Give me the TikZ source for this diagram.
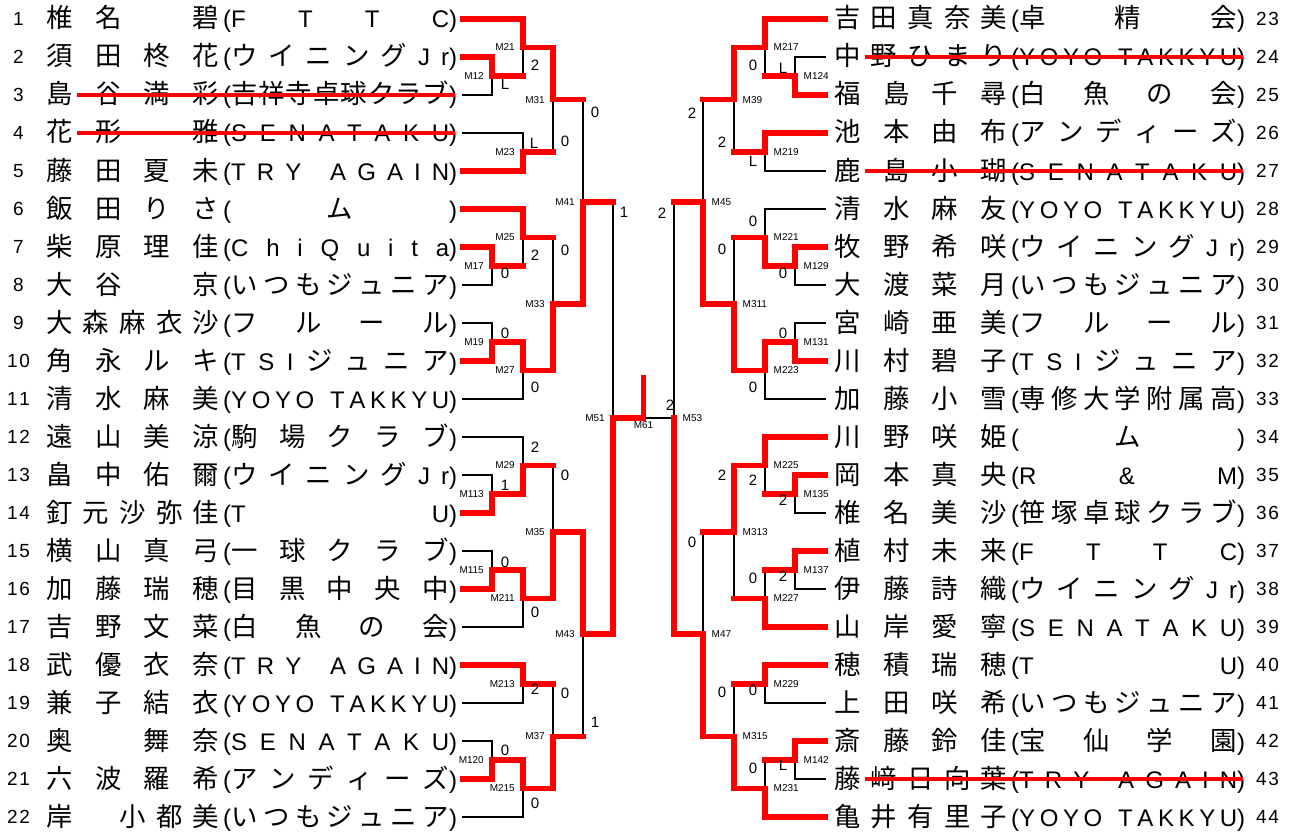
\documentclass[tikz,border=0pt]{standalone}
\usepackage{fontspec}
\setmainfont{Liberation Sans}
\newfontfamily\jp[Scale=1.1]{Noto Sans CJK JP}
\usetikzlibrary{calc,positioning}
% one character, CJK in the Japanese font, * for a blank
\def\onechar#1{\ifx#1*\kern.28em\else\ifnum`#1>"2FFF {\jp #1}\else #1\fi\fi}
\def\spreadaux#1#2\relax{\onechar{#1}\ifx\relax#2\relax\else\hfill\spreadaux#2\relax\fi}
\newcommand\spread[2]{\makebox[#1pt]{\expandafter\spreadaux#2\relax}}
\newcommand\entrynum[1]{\ifnum#1>9 \spread{23}{#1}\else#1\fi}
\tikzset{
	bk/.style={line width=1.4pt},
	win/.style={red, line width=5.5pt},
	strike/.style={red, line width=3.5pt, line cap=butt},
	row/.style={anchor=west, inner sep=0pt, text height=21pt, text depth=3pt, font=\fontsize{24}{24}\selectfont},
	num/.style={inner sep=0pt, font=\fontsize{19}{19}\selectfont},
	score/.style={inner sep=0pt, font=\fontsize{15}{15}\selectfont},
	lbl/.style={inner sep=0pt, font=\fontsize{10}{10}\selectfont}
}
\begin{document}
\begin{tikzpicture}[x=1pt, y=-1pt, line cap=rect]
	\fill[white] (0,0) rectangle (1295,832);
	%
	\foreach \n/\nm/\cl [evaluate=\n as \y using {19+(\n-1)*38}] in {
		1/椎名　碧/FTTC,
		2/須田柊花/ウイニングJr,
		3/島谷満彩/吉祥寺卓球クラブ,
		4/花形　雅/SENATAKU,
		5/藤田夏未/TRY*AGAIN,
		6/飯田りさ/　ム　,
		7/柴原理佳/ChiQuita,
		8/大谷　京/いつもジュニア,
		9/大森麻衣沙/フルール,
		10/角永ルキ/TSIジュニア,
		11/清水麻美/YOYO*TAKKYU,
		12/遠山美涼/駒場クラブ,
		13/畠中佑爾/ウイニングJr,
		14/釘元沙弥佳/TU,
		15/横山真弓/一球クラブ,
		16/加藤瑞穂/目黒中央中,
		17/吉野文菜/白魚の会,
		18/武優衣奈/TRY*AGAIN,
		19/兼子結衣/YOYO*TAKKYU,
		20/奥　舞奈/SENATAKU,
		21/六波羅希/アンディーズ,
		22/岸　小都美/いつもジュニア}{
		\node[num] (n\n) at (18.5,\y) {\entrynum{\n}};
		\node[row] (t\n) at (46,\y) {\spread{173}{\nm}\kern4pt(\spread{218}{\cl})};
		\coordinate (p\n) at (463,\y);
	}
	\foreach \n/\nm/\cl [evaluate=\n as \y using {19+(\n-23)*38}] in {
		23/吉田真奈美/卓精会,
		24/中野ひまり/YOYO*TAKKYU,
		25/福島千尋/白魚の会,
		26/池本由布/アンディーズ,
		27/鹿島小瑚/SENATAKU,
		28/清水麻友/YOYO*TAKKYU,
		29/牧野希咲/ウイニングJr,
		30/大渡菜月/いつもジュニア,
		31/宮崎亜美/フルール,
		32/川村碧子/TSIジュニア,
		33/加藤小雪/専修大学附属高,
		34/川野咲姫/　ム　,
		35/岡本真央/R\&M,
		36/椎名美沙/笹塚卓球クラブ,
		37/植村未来/FTTC,
		38/伊藤詩織/ウイニングJr,
		39/山岸愛寧/SENATAKU,
		40/穂積瑞穂/TU,
		41/上田咲希/いつもジュニア,
		42/斎藤鈴佳/宝仙学園,
		43/藤﨑日向葉/TRY*AGAIN,
		44/亀井有里子/YOYO*TAKKYU}{
		\node[row] (t\n) at (834,\y) {\spread{173}{\nm}\kern4pt(\spread{218}{\cl})};
		\node[num] (n\n) at (1267.5,\y) {\entrynum{\n}};
		\coordinate (p\n) at (825,\y);
	}
	\foreach \n in {3,4,24,27,43}
		\draw[strike] ([xshift=31pt]t\n.west) -- ([xshift=-2pt]t\n.east);
	%
	% the brackets
	\foreach \a/\m/\b/\cx in {p2/M12/p3/492, p1/M21/M12/523, p4/M23/p5/523, M21/M31/M23/553,
		p7/M17/p8/492, p6/M25/M17/523, p9/M19/p10/492, M19/M27/p11/523, M25/M33/M27/553, M31/M41/M33/583,
		p13/M113/p14/492, p12/M29/M113/523, p15/M115/p16/492, M115/M211/p17/523, M29/M35/M211/553,
		p18/M213/p19/523, p20/M120/p21/492, M120/M215/p22/523, M213/M37/M215/553, M35/M43/M37/583,
		M41/M51/M43/613,
		p24/M124/p25/795, p23/M217/M124/765, p26/M219/p27/765, M217/M39/M219/734,
		p29/M129/p30/795, p28/M221/M129/765, p31/M131/p32/795, M131/M223/p33/765, M221/M311/M223/734, M39/M45/M311/703,
		p35/M135/p36/795, p34/M225/M135/765, p37/M137/p38/795, M137/M227/p39/765, M225/M313/M227/734,
		p40/M229/p41/765, p42/M142/p43/795, M142/M231/p44/765, M229/M315/M231/734, M313/M47/M315/703,
		M45/M53/M47/674}{
		\path let \p1=(\a), \p2=(\b) in coordinate (\m) at (\cx pt, {(\y1+\y2)/2});
		\draw[bk] (\a) -| (\m) |- (\b);
	}
	\coordinate (M61) at ($(M51)!.5!(M53)$);
	\coordinate (champ) at ($(M61)+(0,-40)$);
	\draw[bk] (M51) -- (M53);
	%
	% winners
	\foreach \a/\m in {p2/M12, p1/M21, p5/M23, M21/M31, p7/M17, p6/M25, p10/M19, M19/M27, M27/M33, M33/M41,
		p14/M113, M113/M29, p16/M115, M115/M211, M211/M35, p18/M213, p21/M120, M120/M215, M215/M37, M35/M43, M43/M51,
		p25/M124, p23/M217, p26/M219, M217/M39, p29/M129, M129/M221, p32/M131, M131/M223, M223/M311, M311/M45,
		p35/M135, p34/M225, p37/M137, p39/M227, M225/M313, p40/M229, p42/M142, p44/M231, M231/M315, M315/M47, M47/M53}
		\draw[win] (\a) -| (\m);
	\foreach \a/\m in {M12/M21, M23/M31, M17/M25, M25/M33, M31/M41, M29/M35, M213/M37, M37/M43, M41/M51,
		M124/M217, M219/M39, M221/M311, M39/M45, M135/M225, M137/M227, M227/M313, M229/M315, M142/M231, M313/M47, M45/M53}
		\draw[win] (\a) -- (\a -| \m);
	\draw[win] (M51) -| (champ);
	%
	% match names and scores
	\foreach \m in {M12, M21, M23, M31, M17, M25, M19, M27, M33, M41, M113, M29, M115, M211, M35, M213, M120, M215, M37, M43, M51}
		\node[lbl, left=8pt of \m] (l\m) {\m};
	\foreach \m in {M124, M217, M219, M39, M129, M221, M131, M223, M311, M45, M135, M225, M137, M227, M313, M229, M142, M231, M315, M47, M53}
		\node[lbl, right=8.5pt of \m] (l\m) {\m};
	\node[lbl, below=3pt of M61] (lM61) {M61};
	\foreach \sx/\sy/\s [count=\k] in {535/65/2, 505/84/L, 534/143/L, 565/141/0, 595/112/0, 505/273/0, 535/255/2,
		505/333/0, 535/387/0, 565/250/0, 624/212/1, 505/485/1, 535/447/2, 505/562/0, 535/612/0, 565/475/0,
		535/689/2, 505/750/0, 535/803/0, 565/693/0, 595/722/1,
		783/68/L, 753/65/0, 753/161/L, 722/142/2, 692/113/2, 662/213/2, 670/405/2, 753/221/0, 783/273/0,
		722/249/0, 783/333/0, 753/387/0, 753/480/2, 783/500/2, 722/475/2, 692/542/0, 753/578/0, 783/576/2,
		753/690/0, 722/692/0, 753/768/0, 783/765/L}
		\node[score] (s\k) at (\sx,\sy) {\s};
\end{tikzpicture}
\end{document}
